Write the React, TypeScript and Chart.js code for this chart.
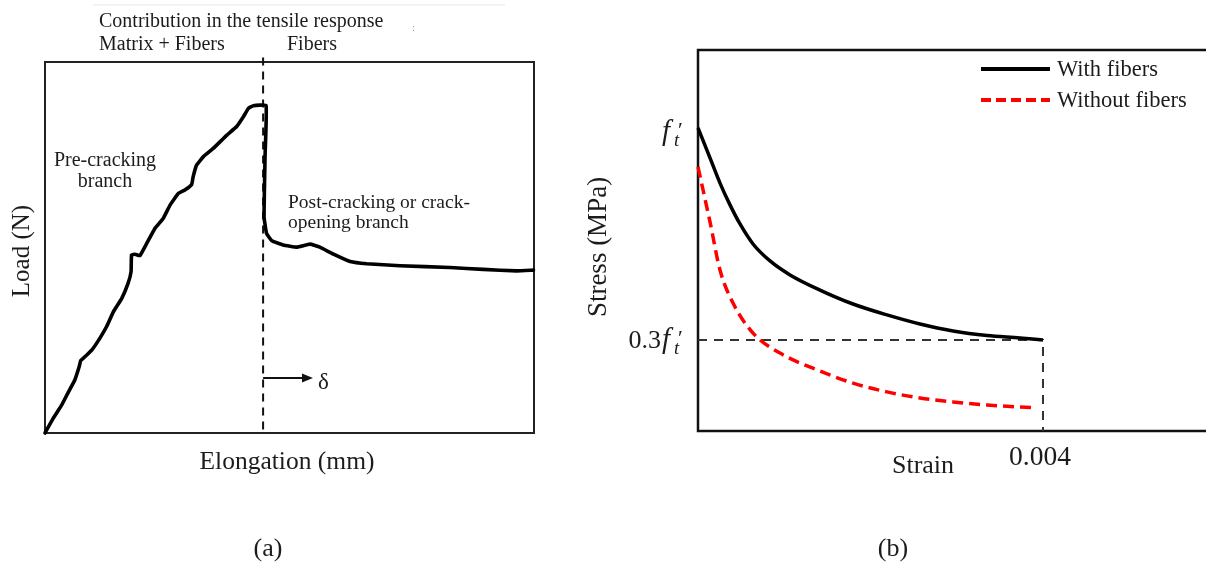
import React, { useEffect, useRef } from "react";
import { Chart, registerables } from "chart.js";

Chart.register(...registerables);

// ---------- Panel (a): load vs elongation (relative units 0..100) ----------
const elongation = [
  0, 1.7, 3.4, 4.8, 6.1, 7.0, 7.3, 8.2, 9.6, 11.2, 12.6, 14.0, 15.7, 17.0, 17.6, 17.7, 18.4, 19.4,
  20.8, 22.5, 24.2, 25.6, 27.3, 28.6, 30.0, 30.3, 31.0, 32.4, 34.4, 37.2, 39.2, 40.6, 41.6, 42.6,
  45.2, 45.0, 44.8, 45.3, 46.4, 48.7, 51.5, 54.2, 56.2, 59.0, 62.4, 65.8, 72.6, 82.8, 89.6, 96.5, 99.9,
];
const load = [
  0, 4.0, 7.5, 11.1, 14.3, 17.9, 19.5, 20.6, 22.4, 25.5, 28.7, 32.7, 36.3, 40.4, 43.5, 48.0, 48.2, 47.8,
  51.1, 55.2, 57.9, 61.5, 64.6, 65.5, 67.0, 69.1, 72.2, 74.5, 76.7, 80.3, 82.6, 85.3, 87.5, 88.2,
  88.3, 74.5, 58.3, 53.8, 51.8, 50.7, 50.1, 50.9, 50.1, 48.2, 46.2, 45.6, 45.1, 44.6, 44.1, 43.7, 43.9,
];
const crackX = [44.6, 44.6];
const crackY = [101.2, 0];
const deltaArrowX = [44.6, 54.8];
const deltaArrowY = 14.8;

// ---------- Panel (b): stress vs strain ----------
const strainWith = [0, 0.000139, 0.000255, 0.000371, 0.000487, 0.000638, 0.000835, 0.001067, 0.001414, 0.001797, 0.002191, 0.002574, 0.002957, 0.003351, 0.003733, 0.004];
const stressWith = [1.0, 0.901, 0.818, 0.746, 0.683, 0.617, 0.561, 0.515, 0.465, 0.419, 0.383, 0.353, 0.33, 0.315, 0.307, 0.3];
const strainWithout = [0, 0.000139, 0.000255, 0.000406, 0.000638, 0.000951, 0.001414, 0.001797, 0.002191, 0.002574, 0.002957, 0.003351, 0.00393];
const stressWithout = [0.871, 0.69, 0.531, 0.422, 0.323, 0.257, 0.198, 0.158, 0.129, 0.109, 0.096, 0.086, 0.076];
const guideStrain = [0, 0.004, 0.004];
const guideStress = [0.3, 0.3, 0.0];
const ultimateStrainLabel = "0.004";
const seriesNames = ["With fibers", "Without fibers"];

const SERIF = '"Liberation Serif", "Times New Roman", serif';
const INK = "#1c1c1c";

const W = 1206;
const H = 564;

function pts(xs: number[], ys: number[]) {
  return xs.map((x, i) => ({ x, y: ys[i] }));
}

function text(ctx: CanvasRenderingContext2D, s: string, x: number, y: number, size: number, align: CanvasTextAlign = "left", style = "") {
  ctx.font = `${style} ${size}px ${SERIF}`;
  ctx.textAlign = align;
  ctx.textBaseline = "alphabetic";
  ctx.fillStyle = INK;
  ctx.fillText(s, x, y);
}

function rotText(ctx: CanvasRenderingContext2D, s: string, cx: number, cy: number, size: number) {
  ctx.save();
  ctx.translate(cx, cy);
  ctx.rotate(-Math.PI / 2);
  ctx.font = `${size}px ${SERIF}`;
  ctx.textAlign = "center";
  ctx.textBaseline = "middle";
  ctx.fillStyle = INK;
  ctx.fillText(s, 0, 0);
  ctx.restore();
}

function ftLabel(ctx: CanvasRenderingContext2D, x: number, base: number) {
  text(ctx, "f", x, base, 29, "left", "italic");
  text(ctx, "t", x + 12, base + 6, 19, "left", "italic");
  text(ctx, "\u2032", x + 16, base - 3, 22, "left");
}

const panelAPlugin = {
  id: "panelA",
  beforeDatasetsDraw(chart: any) {
    const { ctx, chartArea: a } = chart;
    ctx.save();
    ctx.strokeStyle = "#222";
    ctx.lineWidth = 2;
    ctx.strokeRect(a.left, a.top, a.right - a.left, a.bottom - a.top);
    ctx.restore();
  },
  afterDatasetsDraw(chart: any) {
    const { ctx } = chart;
    const xs = chart.scales.x;
    const ys = chart.scales.y;
    ctx.save();
    ctx.strokeStyle = "#efefef";
    ctx.lineWidth = 1.5;
    ctx.beginPath();
    ctx.moveTo(93, 5);
    ctx.lineTo(505, 5);
    ctx.stroke();
    text(ctx, "Contribution in the tensile response", 99, 27, 20);
    text(ctx, "Matrix + Fibers", 99, 50, 20);
    text(ctx, "Fibers", 287, 50, 20);
    ctx.fillStyle = "#999";
    ctx.font = `11px ${SERIF}`;
    ctx.fillText(":", 412, 31);
    text(ctx, "Pre-cracking", 105, 166, 20, "center");
    text(ctx, "branch", 105, 187, 20, "center");
    text(ctx, "Post-cracking or crack-", 288, 208, 19.5);
    text(ctx, "opening branch", 288, 228, 19.5);
    rotText(ctx, "Load (N)", 22, 251, 25);
    text(ctx, "Elongation (mm)", 287, 469, 25.5, "center");
    const x0 = xs.getPixelForValue(deltaArrowX[0]);
    const x1 = xs.getPixelForValue(deltaArrowX[1]);
    const y0 = ys.getPixelForValue(deltaArrowY);
    ctx.strokeStyle = "#111";
    ctx.fillStyle = "#111";
    ctx.lineWidth = 2;
    ctx.beginPath();
    ctx.moveTo(x0, y0);
    ctx.lineTo(x1 - 8, y0);
    ctx.stroke();
    ctx.beginPath();
    ctx.moveTo(x1, y0);
    ctx.lineTo(x1 - 11, y0 - 4.5);
    ctx.lineTo(x1 - 11, y0 + 4.5);
    ctx.closePath();
    ctx.fill();
    text(ctx, "\u03b4", x1 + 5, y0 + 11, 23);
    text(ctx, "(a)", 268, 556, 26, "center");
    ctx.restore();
  },
};

const panelBPlugin = {
  id: "panelB",
  beforeDatasetsDraw(chart: any) {
    const { ctx, chartArea: a } = chart;
    ctx.save();
    ctx.strokeStyle = "#111";
    ctx.lineWidth = 2.5;
    ctx.beginPath();
    ctx.moveTo(a.right, a.top);
    ctx.lineTo(a.left, a.top);
    ctx.lineTo(a.left, a.bottom);
    ctx.lineTo(a.right, a.bottom);
    ctx.stroke();
    ctx.restore();
  },
  afterDatasetsDraw(chart: any) {
    const { ctx } = chart;
    const xs = chart.scales.x;
    const ys = chart.scales.y;
    ctx.save();
    ctx.lineWidth = 4;
    ctx.strokeStyle = "#000";
    ctx.beginPath();
    ctx.moveTo(981, 69);
    ctx.lineTo(1050, 69);
    ctx.stroke();
    ctx.strokeStyle = "#ff0000";
    ctx.setLineDash([10, 5]);
    ctx.beginPath();
    ctx.moveTo(981, 100);
    ctx.lineTo(1050, 100);
    ctx.stroke();
    ctx.setLineDash([]);
    text(ctx, seriesNames[0], 1057, 76, 22.5);
    text(ctx, seriesNames[1], 1057, 107, 22.5);
    const yTop = ys.getPixelForValue(1.0);
    const yLow = ys.getPixelForValue(0.3);
    ftLabel(ctx, 662, yTop + 12);
    text(ctx, "0.3", 661, yLow + 8, 26, "right");
    ftLabel(ctx, 662, yLow + 8);
    rotText(ctx, "Stress (MPa)", 599, 247, 27);
    text(ctx, "Strain", 923, 473, 26, "center");
    text(ctx, ultimateStrainLabel, xs.getPixelForValue(0.004) - 3, 465, 27.5, "center");
    text(ctx, "(b)", 893, 556, 26, "center");
    ctx.restore();
  },
};

export default function App() {
  const refA = useRef<HTMLCanvasElement>(null);
  const refB = useRef<HTMLCanvasElement>(null);

  useEffect(() => {
    const chartA = new Chart(refA.current as HTMLCanvasElement, {
      type: "scatter",
      data: {
        datasets: [
          {
            data: pts(elongation, load),
            showLine: true,
            borderColor: "#000",
            borderWidth: 3.6,
            pointRadius: 0,
            tension: 0.1,
            borderJoinStyle: "round",
            borderCapStyle: "round",
            clip: false,
          } as any,
          {
            data: pts(crackX, crackY),
            showLine: true,
            borderColor: "#111",
            borderWidth: 2,
            borderDash: [8, 6],
            pointRadius: 0,
            clip: false,
          } as any,
        ],
      },
      options: {
        animation: false,
        responsive: false,
        devicePixelRatio: 1,
        layout: { padding: { left: 45, top: 62, right: W - 534, bottom: H - 433 } },
        plugins: { legend: { display: false }, tooltip: { enabled: false } },
        scales: {
          x: { type: "linear", min: 0, max: 100, display: false },
          y: { type: "linear", min: 0, max: 100, display: false },
        },
      },
      plugins: [panelAPlugin],
    });

    const chartB = new Chart(refB.current as HTMLCanvasElement, {
      type: "scatter",
      data: {
        datasets: [
          {
            label: seriesNames[0],
            data: pts(strainWith, stressWith),
            showLine: true,
            borderColor: "#000",
            borderWidth: 3.5,
            pointRadius: 0,
            cubicInterpolationMode: "monotone",
            clip: false,
          } as any,
          {
            label: seriesNames[1],
            data: pts(strainWithout, stressWithout),
            showLine: true,
            borderColor: "#ff0000",
            borderWidth: 3.5,
            borderDash: [11, 6],
            pointRadius: 0,
            cubicInterpolationMode: "monotone",
            clip: false,
          } as any,
          {
            data: pts(guideStrain, guideStress),
            showLine: true,
            borderColor: "#333",
            borderWidth: 2,
            borderDash: [9, 7],
            pointRadius: 0,
            tension: 0,
            clip: false,
          } as any,
        ],
      },
      options: {
        animation: false,
        responsive: false,
        devicePixelRatio: 1,
        layout: { padding: { left: 698, top: 50, right: 0, bottom: H - 431 } },
        plugins: { legend: { display: false }, tooltip: { enabled: false } },
        scales: {
          x: { type: "linear", min: 0, max: 0.00589, display: false },
          y: { type: "linear", min: 0, max: 1.257, display: false },
        },
      },
      plugins: [panelBPlugin],
    });

    return () => {
      chartA.destroy();
      chartB.destroy();
    };
  }, []);

  return (
    <div style={{ position: "fixed", left: 0, top: 0, width: W, height: H, background: "#fff", overflow: "hidden" }}>
      <canvas ref={refA} width={W} height={H} style={{ position: "absolute", left: 0, top: 0, width: W, height: H }} />
      <canvas ref={refB} width={W} height={H} style={{ position: "absolute", left: 0, top: 0, width: W, height: H }} />
    </div>
  );
}
